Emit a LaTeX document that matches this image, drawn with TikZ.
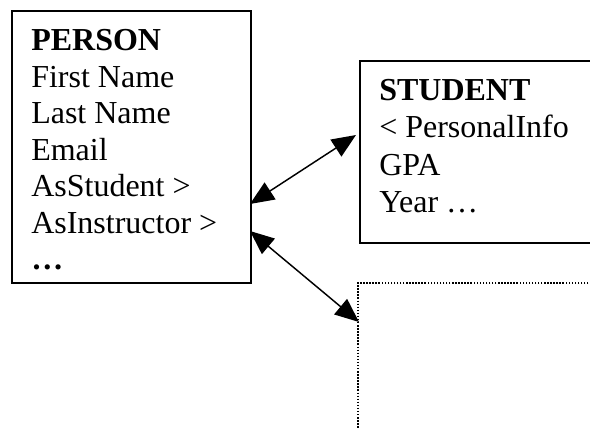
\documentclass[tikz,border=0pt]{standalone}
\usepackage{fontspec}
\setmainfont{Liberation Serif}
\usetikzlibrary{arrows.meta}
\begin{document}
\begin{tikzpicture}[x=0.75pt,y=-0.75pt,
  box/.style={draw, line width=1.3pt, rectangle, inner sep=0pt, anchor=north west},
  dotbox/.style={draw, line width=1.2pt, dash pattern=on 1.1pt off 1.2pt, rectangle, inner sep=0pt, anchor=north west},
  txt/.style={anchor=base west, inner sep=0pt, font=\fontsize{24}{27.6}\selectfont},
  btxt/.style={anchor=base west, inner sep=0pt, font=\fontsize{24}{27.6}\selectfont\bfseries},
  link/.style={line width=1.1pt, {Triangle[length=18pt,width=15pt]}-{Triangle[length=18pt,width=15pt]}}]
\clip (0,0) rectangle (590,429);
% boxes
\node[box, minimum width=179.25pt, minimum height=204pt] (person) at (11,10) {};
\node[box, minimum width=187.5pt, minimum height=136.5pt] (student) at (359,60) {};
\node[dotbox, minimum width=187.5pt, minimum height=120pt] (other) at (357,282) {};
% PERSON text
\node[btxt] (p0) at (31,50) {PERSON};
\node[txt] (p1) at (31,87) {First Name};
\node[txt] (p2) at (31,123) {Last Name};
\node[txt] (p3) at (31,160) {Email};
\node[txt] (p4) at (31,196) {AsStudent >};
\node[txt] (p5) at (31,233) {AsInstructor >};
\node[btxt] (p6) at (31,269) {…};
% STUDENT text
\node[btxt] (s0) at (379,100) {STUDENT};
\node[txt] (s1) at (379,137) {< PersonalInfo};
\node[txt] (s2) at (379,175) {GPA};
\node[txt] (s3) at (379,212) {Year …};
% connectors
\coordinate (a1) at (250,204);
\coordinate (b1) at (356,135);
\coordinate (a2) at (250,231);
\coordinate (b2) at (359,322);
\draw[link] (a1) -- (b1);
\draw[link] (a2) -- (b2);
\end{tikzpicture}
\end{document}
